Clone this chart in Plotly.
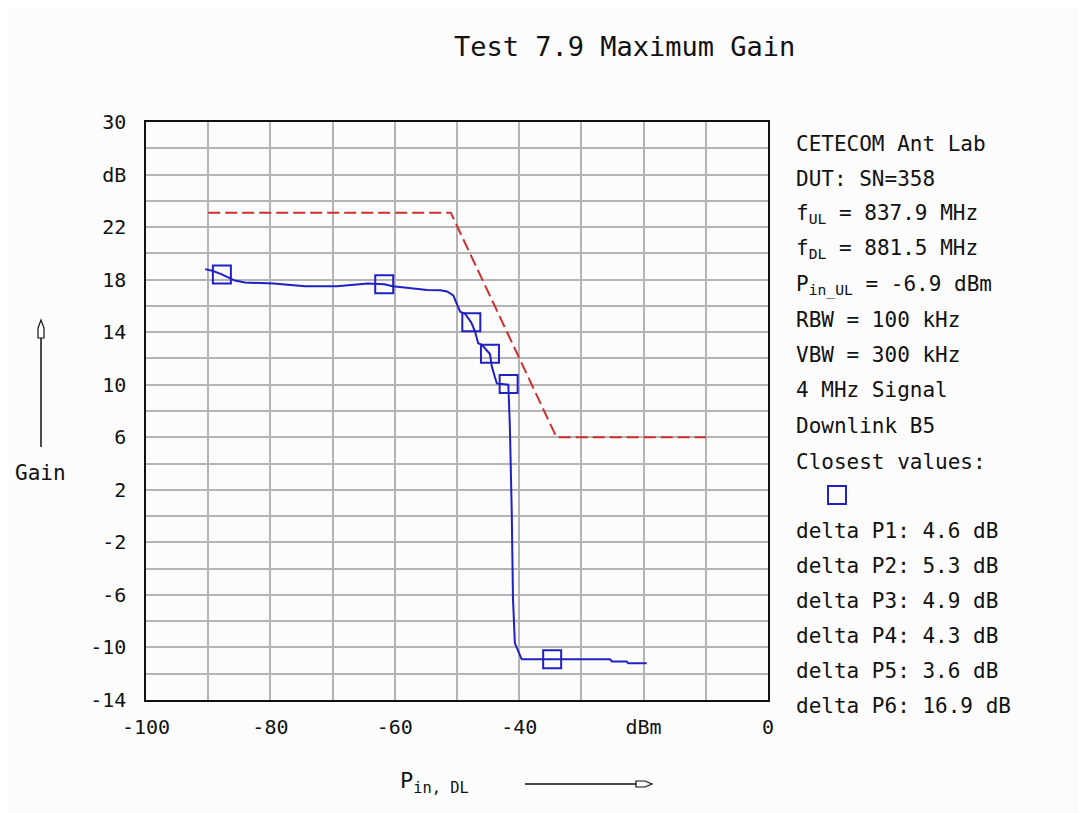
import plotly.graph_objects as go

# ---------------- data ----------------
curve_pin = [-90.5, -89.2, -87.8, -85.7, -84.1, -79.5, -74.4, -69.3, -64.3, -61.7, -60.3,
             -57.1, -54.8, -52.7, -51.6, -50.6, -50.0, -49.5, -48.7, -47.7, -47.1, -46.6,
             -46.0, -44.7, -44.4, -43.6, -41.75, -41.5, -41.2, -41.0, -40.7, -40.2, -39.6,
             -34.7, -25.4, -25.1, -22.7, -22.5, -19.5]
curve_gain = [18.8, 18.66, 18.4, 17.93, 17.78, 17.7, 17.5, 17.5, 17.7, 17.65, 17.5,
              17.37, 17.22, 17.2, 17.1, 16.8, 16.1, 15.56, 15.4, 14.73, 14.05, 13.16,
              13.03, 12.34, 11.38, 10.1, 10.0, 6.8, 0.35, -6.25, -9.67, -10.18, -10.9,
              -10.9, -10.9, -11.07, -11.07, -11.2, -11.2]

marker_pin = [-87.8, -61.7, -47.7, -44.7, -41.7, -34.7]
marker_gain = [18.4, 17.65, 14.75, 12.35, 10.05, -10.9]

limit_pin = [-90, -51, -34, -10]
limit_gain = [23.1, 23.1, 6, 6]

x_tick_values = [-100, -80, -60, -40, -20, 0]
x_tick_labels = ["-100", "-80", "-60", "-40", "dBm", "0"]
y_tick_values = [-14, -10, -6, -2, 2, 6, 10, 14, 18, 22, 26, 30]
y_tick_labels = ["-14", "-10", "-6", "-2", "2", "6", "10", "14", "18", "22", "dB", "30"]
x_grid_step = 10
y_grid_step = 2

title_text = "Test 7.9 Maximum Gain"
info_lines = [
    "CETECOM Ant Lab",
    "DUT: SN=358",
    "f<sub>UL</sub> = 837.9 MHz",
    "f<sub>DL</sub> = 881.5 MHz",
    "P<sub>in_UL</sub> = -6.9 dBm",
    "RBW = 100 kHz",
    "VBW = 300 kHz",
    "4 MHz Signal",
    "Downlink B5",
    "Closest values:",
]
delta_lines = [
    "delta P1: 4.6 dB",
    "delta P2: 5.3 dB",
    "delta P3: 4.9 dB",
    "delta P4: 4.3 dB",
    "delta P5: 3.6 dB",
    "delta P6: 16.9 dB",
]
y_label = "Gain"
x_label = "P<sub>in, DL</sub>"

# ---------------- layout helpers ----------------
OFF = 8  # page body margin
W, H = 1086 - OFF, 813 - OFF
L, R, T, B = 146 - OFF, 768 - OFF, 122 - OFF, 700 - OFF
FONT = "DejaVu Sans Mono"
BLUE = "#2020c4"
RED = "#cc2f2f"
BG = "#fcfcfc"
INK = "#111111"


def px(x):
    return (x - OFF - L) / (R - L)


def py(y):
    return (B - (y - OFF)) / (B - T)


def path(points):
    return "M " + " L ".join(f"{px(a):.5f},{py(b):.5f}" for a, b in points) + " Z"


fig = go.Figure()

fig.add_trace(go.Scatter(x=limit_pin, y=limit_gain, mode="lines",
                         line=dict(color=RED, width=2, dash="12px,5px"),
                         hoverinfo="skip", showlegend=False))
fig.add_trace(go.Scatter(x=curve_pin, y=curve_gain, mode="lines",
                         line=dict(color=BLUE, width=2),
                         showlegend=False))
fig.add_trace(go.Scatter(x=marker_pin, y=marker_gain, mode="markers",
                         marker=dict(symbol="square-open", size=18,
                                     line=dict(color=BLUE, width=2), color=BLUE),
                         showlegend=False))

annotations = []
annotations.append(dict(text=title_text, x=px(624), y=py(47), xref="paper", yref="paper",
                        showarrow=False, xanchor="center", yanchor="middle",
                        font=dict(family=FONT, size=27, color=INK)))

info_y = [144, 179, 214, 249, 285, 320, 355, 390, 426, 462]
for t, yy in zip(info_lines, info_y):
    annotations.append(dict(text=t, x=px(794), y=py(yy), xref="paper", yref="paper",
                            showarrow=False, xanchor="left", yanchor="middle",
                            font=dict(family=FONT, size=21, color=INK)))
delta_y = [531, 566, 601, 636, 671, 706]
for t, yy in zip(delta_lines, delta_y):
    annotations.append(dict(text=t, x=px(794), y=py(yy), xref="paper", yref="paper",
                            showarrow=False, xanchor="left", yanchor="middle",
                            font=dict(family=FONT, size=21, color=INK)))

annotations.append(dict(text=y_label, x=px(13), y=py(473), xref="paper", yref="paper",
                        showarrow=False, xanchor="left", yanchor="middle",
                        font=dict(family=FONT, size=21, color=INK)))
annotations.append(dict(text=x_label, x=px(398), y=py(782), xref="paper", yref="paper",
                        showarrow=False, xanchor="left", yanchor="middle",
                        font=dict(family=FONT, size=22, color=INK)))

shapes = [
    # legend square
    dict(type="rect", xref="paper", yref="paper", x0=px(828), x1=px(846), y0=py(486), y1=py(504),
         line=dict(color=BLUE, width=2)),
    # y-arrow
    dict(type="line", xref="paper", yref="paper", x0=px(41), x1=px(41), y0=py(447), y1=py(338),
         line=dict(color=INK, width=1.5)),
    dict(type="path", xref="paper", yref="paper",
         path=path([(38, 338), (38, 328), (41, 320), (44, 328), (44, 338)]),
         line=dict(color=INK, width=1.2), fillcolor=BG),
    # x-arrow
    dict(type="line", xref="paper", yref="paper", x0=px(525), x1=px(636), y0=py(784), y1=py(784),
         line=dict(color=INK, width=1.5)),
    dict(type="path", xref="paper", yref="paper",
         path=path([(636, 781), (645, 781), (652, 784), (645, 787), (636, 787)]),
         line=dict(color=INK, width=1.2), fillcolor=BG),
]

axis_common = dict(showgrid=False, zeroline=False,
                   showline=True, linecolor=INK, linewidth=1.5, mirror=True,
                   ticks="", tickfont=dict(family=FONT, size=20, color=INK))

fig.update_layout(
    width=W, height=H,
    margin=dict(l=L, r=W - R, t=T, b=H - B, pad=0),
    paper_bgcolor=BG, plot_bgcolor=BG,
    annotations=annotations, shapes=shapes,
    showlegend=False,
    xaxis=dict(range=[-100, 0], tickmode="array", tickvals=x_tick_values, ticktext=x_tick_labels,
               ticklabelstandoff=8,
               minor=dict(tick0=-100, dtick=x_grid_step, showgrid=True,
                          gridcolor="#b4b4b4", gridwidth=1.5, ticks=""),
               **axis_common),
    yaxis=dict(range=[-14, 30], tickmode="array", tickvals=y_tick_values, ticktext=y_tick_labels,
               ticklabelstandoff=14,
               minor=dict(tick0=-14, dtick=y_grid_step, showgrid=True,
                          gridcolor="#b4b4b4", gridwidth=1.5, ticks=""),
               **axis_common),
)

fig.write_html("out.html")
